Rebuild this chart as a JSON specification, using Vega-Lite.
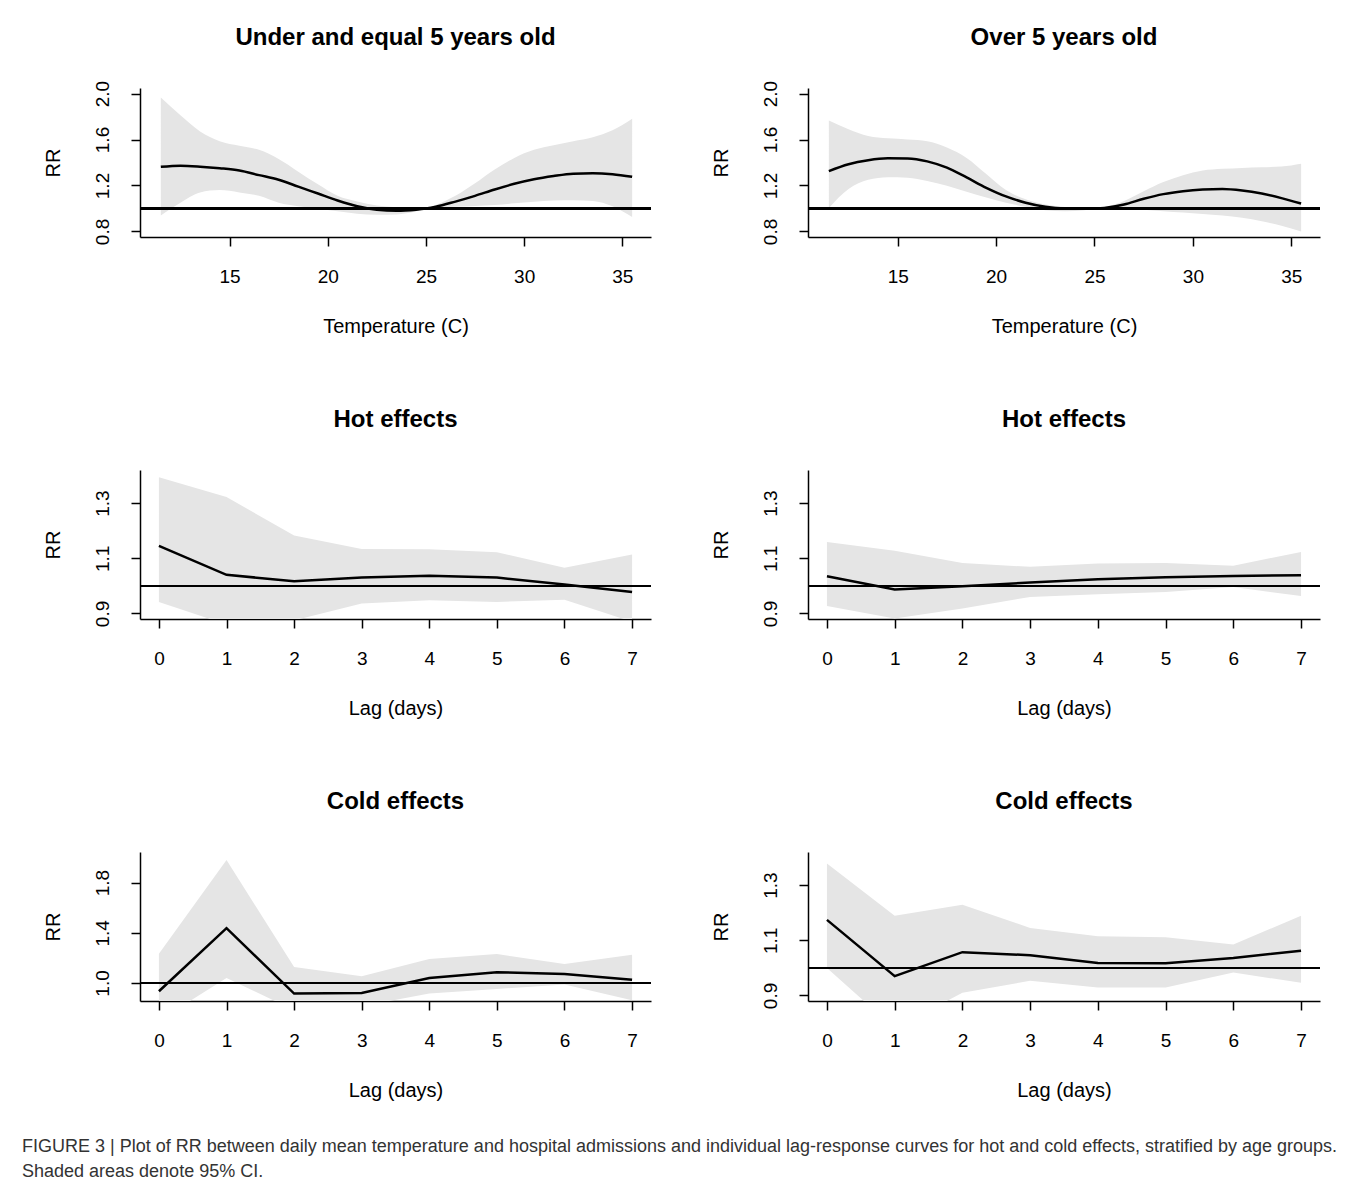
{
  "$schema": "https://vega.github.io/schema/vega-lite/v6.json",
  "background": "white",
  "padding": {"left": 22, "top": 26, "right": 5, "bottom": 5},
  "datasets": {
    "p1": [
      {"x": 11.5, "rr": 1.362, "lo": 0.94, "hi": 1.965},
      {"x": 12.5, "rr": 1.372, "lo": 1.05, "hi": 1.81},
      {"x": 13.5, "rr": 1.364, "lo": 1.14, "hi": 1.67},
      {"x": 14.5, "rr": 1.35, "lo": 1.16, "hi": 1.585},
      {"x": 15.5, "rr": 1.33, "lo": 1.14, "hi": 1.545},
      {"x": 16.5, "rr": 1.29, "lo": 1.11, "hi": 1.51},
      {"x": 17.5, "rr": 1.25, "lo": 1.05, "hi": 1.43},
      {"x": 18.5, "rr": 1.19, "lo": 1.02, "hi": 1.32},
      {"x": 19.5, "rr": 1.13, "lo": 1.0, "hi": 1.21},
      {"x": 20.5, "rr": 1.07, "lo": 0.975, "hi": 1.11},
      {"x": 21.5, "rr": 1.02, "lo": 0.955, "hi": 1.06},
      {"x": 22.5, "rr": 0.99, "lo": 0.945, "hi": 1.025},
      {"x": 23.5, "rr": 0.98, "lo": 0.948, "hi": 1.01},
      {"x": 24.5, "rr": 0.99, "lo": 0.975, "hi": 1.003},
      {"x": 25.0, "rr": 1.0, "lo": 1.0, "hi": 1.0},
      {"x": 25.5, "rr": 1.015, "lo": 1.005, "hi": 1.03},
      {"x": 26.5, "rr": 1.06, "lo": 1.015, "hi": 1.11},
      {"x": 27.5, "rr": 1.11, "lo": 1.022, "hi": 1.22},
      {"x": 28.5, "rr": 1.165, "lo": 1.03, "hi": 1.34},
      {"x": 29.5, "rr": 1.215, "lo": 1.045, "hi": 1.44},
      {"x": 30.5, "rr": 1.255, "lo": 1.058, "hi": 1.51},
      {"x": 31.5, "rr": 1.283, "lo": 1.07, "hi": 1.55},
      {"x": 32.5, "rr": 1.303, "lo": 1.072, "hi": 1.585},
      {"x": 33.5, "rr": 1.307, "lo": 1.066, "hi": 1.62},
      {"x": 34.5, "rr": 1.298, "lo": 1.02, "hi": 1.68},
      {"x": 35.5, "rr": 1.276, "lo": 0.925, "hi": 1.78}
    ],
    "p2": [
      {"x": 11.5, "rr": 1.325, "lo": 1.005, "hi": 1.765},
      {"x": 12.5, "rr": 1.385, "lo": 1.17, "hi": 1.69},
      {"x": 13.5, "rr": 1.42, "lo": 1.25, "hi": 1.63},
      {"x": 14.5, "rr": 1.436, "lo": 1.272, "hi": 1.61},
      {"x": 15.5, "rr": 1.435, "lo": 1.268, "hi": 1.6},
      {"x": 16.5, "rr": 1.41, "lo": 1.24, "hi": 1.585},
      {"x": 17.5, "rr": 1.355, "lo": 1.197, "hi": 1.53},
      {"x": 18.5, "rr": 1.27, "lo": 1.145, "hi": 1.44},
      {"x": 19.5, "rr": 1.18, "lo": 1.095, "hi": 1.3},
      {"x": 20.5, "rr": 1.105, "lo": 1.05, "hi": 1.16},
      {"x": 21.5, "rr": 1.05, "lo": 1.015, "hi": 1.08},
      {"x": 22.5, "rr": 1.015, "lo": 0.985, "hi": 1.035},
      {"x": 23.5, "rr": 1.0, "lo": 0.975, "hi": 1.012},
      {"x": 24.5, "rr": 0.998, "lo": 0.985, "hi": 1.003},
      {"x": 25.0, "rr": 1.0, "lo": 1.0, "hi": 1.0},
      {"x": 25.5, "rr": 1.005, "lo": 1.0, "hi": 1.012},
      {"x": 26.5, "rr": 1.035, "lo": 1.0, "hi": 1.065},
      {"x": 27.5, "rr": 1.085, "lo": 0.99, "hi": 1.15},
      {"x": 28.5, "rr": 1.125, "lo": 0.977, "hi": 1.23},
      {"x": 29.5, "rr": 1.15, "lo": 0.965, "hi": 1.29},
      {"x": 30.5, "rr": 1.165, "lo": 0.952, "hi": 1.33},
      {"x": 31.5, "rr": 1.17, "lo": 0.94, "hi": 1.345},
      {"x": 32.5, "rr": 1.157, "lo": 0.92, "hi": 1.353},
      {"x": 33.5, "rr": 1.13, "lo": 0.89, "hi": 1.358},
      {"x": 34.5, "rr": 1.09, "lo": 0.85, "hi": 1.365},
      {"x": 35.5, "rr": 1.043, "lo": 0.8, "hi": 1.39}
    ],
    "p3": [
      {"x": 0, "rr": 1.145, "lo": 0.942, "hi": 1.394},
      {"x": 1, "rr": 1.04, "lo": 0.86, "hi": 1.322},
      {"x": 2, "rr": 1.017, "lo": 0.875, "hi": 1.183},
      {"x": 3, "rr": 1.03, "lo": 0.936, "hi": 1.134},
      {"x": 4, "rr": 1.037, "lo": 0.948, "hi": 1.133},
      {"x": 5, "rr": 1.03, "lo": 0.942, "hi": 1.122},
      {"x": 6, "rr": 1.005, "lo": 0.95, "hi": 1.066},
      {"x": 7, "rr": 0.978, "lo": 0.87, "hi": 1.114}
    ],
    "p4": [
      {"x": 0, "rr": 1.035, "lo": 0.927, "hi": 1.159},
      {"x": 1, "rr": 0.987, "lo": 0.882, "hi": 1.127},
      {"x": 2, "rr": 0.999, "lo": 0.918, "hi": 1.083},
      {"x": 3, "rr": 1.012, "lo": 0.96, "hi": 1.069},
      {"x": 4, "rr": 1.024, "lo": 0.97, "hi": 1.081},
      {"x": 5, "rr": 1.031, "lo": 0.978, "hi": 1.083},
      {"x": 6, "rr": 1.036, "lo": 0.996, "hi": 1.073},
      {"x": 7, "rr": 1.039, "lo": 0.963, "hi": 1.123}
    ],
    "p5": [
      {"x": 0, "rr": 0.934, "lo": 0.7, "hi": 1.233},
      {"x": 1, "rr": 1.437, "lo": 1.04, "hi": 1.98},
      {"x": 2, "rr": 0.915, "lo": 0.783, "hi": 1.127},
      {"x": 3, "rr": 0.92, "lo": 0.815, "hi": 1.053},
      {"x": 4, "rr": 1.04, "lo": 0.915, "hi": 1.19},
      {"x": 5, "rr": 1.085, "lo": 0.952, "hi": 1.23},
      {"x": 6, "rr": 1.072, "lo": 0.987, "hi": 1.151},
      {"x": 7, "rr": 1.026, "lo": 0.862, "hi": 1.225}
    ],
    "p6": [
      {"x": 0, "rr": 1.174, "lo": 1.0, "hi": 1.378},
      {"x": 1, "rr": 0.97, "lo": 0.78, "hi": 1.189},
      {"x": 2, "rr": 1.057, "lo": 0.91, "hi": 1.229},
      {"x": 3, "rr": 1.046, "lo": 0.953, "hi": 1.145},
      {"x": 4, "rr": 1.018, "lo": 0.929, "hi": 1.115},
      {"x": 5, "rr": 1.017, "lo": 0.929, "hi": 1.111},
      {"x": 6, "rr": 1.036, "lo": 0.983, "hi": 1.085},
      {"x": 7, "rr": 1.062, "lo": 0.946, "hi": 1.189}
    ]
  },
  "title": {
    "text": ["FIGURE 3 | Plot of RR between daily mean temperature and hospital admissions and individual lag-response curves for hot and cold effects, stratified by age groups.", "Shaded areas denote 95% CI."],
    "orient": "bottom",
    "anchor": "start",
    "dx": -21,
    "offset": 38,
    "fontSize": 18,
    "fontWeight": "normal",
    "font": "Liberation Sans",
    "color": "#333333",
    "lineHeight": 25
  },
  "spacing": 382,
  "bounds": "flush",
  "vconcat": [
    {
      "bounds": "flush",
      "spacing": 157,
      "hconcat": [
        {
          "title": "Under and equal 5 years old",
          "width": 511, "height": 149,
          "data": {"name": "p1"},
          "layer": [
            {"mark": {"type": "area", "color": "#e5e5e5", "clip": true, "interpolate": "monotone"},
             "encoding": {
               "x": {"field": "x", "type": "quantitative", "title": "Temperature (C)", "scale": {"domain": [10.44, 36.46], "nice": false, "zero": false}, "axis": {"values": [15, 20, 25, 30, 35], "format": "d"}},
               "y": {"field": "lo", "type": "quantitative", "title": "RR", "scale": {"domain": [0.752, 2.048], "nice": false, "zero": false}, "axis": {"values": [0.8, 1.0, 1.2, 1.4, 1.6, 1.8, 2.0], "format": ".1f", "labelExpr": "indexof(['0.8','1.2','1.6','2.0'], datum.label) >= 0 ? datum.label : ''"}},
               "y2": {"field": "hi"}}},
            {"mark": {"type": "rule", "color": "black", "strokeWidth": 1.5}, "encoding": {"y": {"datum": 1}}},
            {"mark": {"type": "line", "color": "black", "strokeWidth": 2.5, "clip": true, "interpolate": "monotone"},
             "encoding": {"x": {"field": "x", "type": "quantitative"}, "y": {"field": "rr", "type": "quantitative"}}}
          ]
        },
        {
          "title": "Over 5 years old",
          "width": 512, "height": 149,
          "data": {"name": "p2"},
          "layer": [
            {"mark": {"type": "area", "color": "#e5e5e5", "clip": true, "interpolate": "monotone"},
             "encoding": {
               "x": {"field": "x", "type": "quantitative", "title": "Temperature (C)", "scale": {"domain": [10.44, 36.46], "nice": false, "zero": false}, "axis": {"values": [15, 20, 25, 30, 35], "format": "d"}},
               "y": {"field": "lo", "type": "quantitative", "title": "RR", "scale": {"domain": [0.752, 2.048], "nice": false, "zero": false}, "axis": {"values": [0.8, 1.0, 1.2, 1.4, 1.6, 1.8, 2.0], "format": ".1f", "labelExpr": "indexof(['0.8','1.2','1.6','2.0'], datum.label) >= 0 ? datum.label : ''"}},
               "y2": {"field": "hi"}}},
            {"mark": {"type": "rule", "color": "black", "strokeWidth": 1.5}, "encoding": {"y": {"datum": 1}}},
            {"mark": {"type": "line", "color": "black", "strokeWidth": 2.5, "clip": true, "interpolate": "monotone"},
             "encoding": {"x": {"field": "x", "type": "quantitative"}, "y": {"field": "rr", "type": "quantitative"}}}
          ]
        }
      ]
    },
    {
      "bounds": "flush",
      "spacing": 157,
      "hconcat": [
        {
          "title": {"text": "Hot effects", "offset": 38},
          "width": 511, "height": 149,
          "data": {"name": "p3"},
          "layer": [
            {"mark": {"type": "area", "color": "#e5e5e5", "clip": true},
             "encoding": {
               "x": {"field": "x", "type": "quantitative", "title": "Lag (days)", "scale": {"domain": [-0.28, 7.28], "nice": false, "zero": false}, "axis": {"values": [0, 1, 2, 3, 4, 5, 6, 7], "format": "d"}},
               "y": {"field": "lo", "type": "quantitative", "title": "RR", "scale": {"domain": [0.88, 1.42], "nice": false, "zero": false}, "axis": {"values": [0.9, 1.0, 1.1, 1.2, 1.3, 1.4], "format": ".1f", "labelExpr": "indexof(['0.9','1.1','1.3'], datum.label) >= 0 ? datum.label : ''"}},
               "y2": {"field": "hi"}}},
            {"mark": {"type": "rule", "color": "black", "strokeWidth": 1.5}, "encoding": {"y": {"datum": 1}}},
            {"mark": {"type": "line", "color": "black", "strokeWidth": 2.5, "clip": true},
             "encoding": {"x": {"field": "x", "type": "quantitative"}, "y": {"field": "rr", "type": "quantitative"}}}
          ]
        },
        {
          "title": {"text": "Hot effects", "offset": 38},
          "width": 512, "height": 149,
          "data": {"name": "p4"},
          "layer": [
            {"mark": {"type": "area", "color": "#e5e5e5", "clip": true},
             "encoding": {
               "x": {"field": "x", "type": "quantitative", "title": "Lag (days)", "scale": {"domain": [-0.28, 7.28], "nice": false, "zero": false}, "axis": {"values": [0, 1, 2, 3, 4, 5, 6, 7], "format": "d"}},
               "y": {"field": "lo", "type": "quantitative", "title": "RR", "scale": {"domain": [0.88, 1.42], "nice": false, "zero": false}, "axis": {"values": [0.9, 1.0, 1.1, 1.2, 1.3, 1.4], "format": ".1f", "labelExpr": "indexof(['0.9','1.1','1.3'], datum.label) >= 0 ? datum.label : ''"}},
               "y2": {"field": "hi"}}},
            {"mark": {"type": "rule", "color": "black", "strokeWidth": 1.5}, "encoding": {"y": {"datum": 1}}},
            {"mark": {"type": "line", "color": "black", "strokeWidth": 2.5, "clip": true},
             "encoding": {"x": {"field": "x", "type": "quantitative"}, "y": {"field": "rr", "type": "quantitative"}}}
          ]
        }
      ]
    },
    {
      "bounds": "flush",
      "spacing": 157,
      "hconcat": [
        {
          "title": {"text": "Cold effects", "offset": 38},
          "width": 511, "height": 149,
          "data": {"name": "p5"},
          "layer": [
            {"mark": {"type": "area", "color": "#e5e5e5", "clip": true},
             "encoding": {
               "x": {"field": "x", "type": "quantitative", "title": "Lag (days)", "scale": {"domain": [-0.28, 7.28], "nice": false, "zero": false}, "axis": {"values": [0, 1, 2, 3, 4, 5, 6, 7], "format": "d"}},
               "y": {"field": "lo", "type": "quantitative", "title": "RR", "scale": {"domain": [0.856, 2.044], "nice": false, "zero": false}, "axis": {"values": [1.0, 1.2, 1.4, 1.6, 1.8, 2.0], "format": ".1f", "labelExpr": "indexof(['1.0','1.4','1.8'], datum.label) >= 0 ? datum.label : ''"}},
               "y2": {"field": "hi"}}},
            {"mark": {"type": "rule", "color": "black", "strokeWidth": 1.5}, "encoding": {"y": {"datum": 1}}},
            {"mark": {"type": "line", "color": "black", "strokeWidth": 2.5, "clip": true},
             "encoding": {"x": {"field": "x", "type": "quantitative"}, "y": {"field": "rr", "type": "quantitative"}}}
          ]
        },
        {
          "title": {"text": "Cold effects", "offset": 38},
          "width": 512, "height": 149,
          "data": {"name": "p6"},
          "layer": [
            {"mark": {"type": "area", "color": "#e5e5e5", "clip": true},
             "encoding": {
               "x": {"field": "x", "type": "quantitative", "title": "Lag (days)", "scale": {"domain": [-0.28, 7.28], "nice": false, "zero": false}, "axis": {"values": [0, 1, 2, 3, 4, 5, 6, 7], "format": "d"}},
               "y": {"field": "lo", "type": "quantitative", "title": "RR", "scale": {"domain": [0.88, 1.42], "nice": false, "zero": false}, "axis": {"values": [0.9, 1.0, 1.1, 1.2, 1.3, 1.4], "format": ".1f", "labelExpr": "indexof(['0.9','1.1','1.3'], datum.label) >= 0 ? datum.label : ''"}},
               "y2": {"field": "hi"}}},
            {"mark": {"type": "rule", "color": "black", "strokeWidth": 1.5}, "encoding": {"y": {"datum": 1}}},
            {"mark": {"type": "line", "color": "black", "strokeWidth": 2.5, "clip": true},
             "encoding": {"x": {"field": "x", "type": "quantitative"}, "y": {"field": "rr", "type": "quantitative"}}}
          ]
        }
      ]
    }
  ],
  "config": {
    "font": "Liberation Sans",
    "view": {"stroke": null},
    "axis": {
      "grid": false,
      "domainColor": "black", "domainWidth": 1.5,
      "tickColor": "black", "tickWidth": 1.5, "tickSize": 9,
      "labelFont": "Liberation Sans", "labelFontSize": 19, "labelColor": "black",
      "titleFont": "Liberation Sans", "titleFontSize": 20, "titleFontWeight": "normal", "titleColor": "black"
    },
    "axisX": {"labelPadding": 21, "titlePadding": 30},
    "axisY": {"labelAngle": -90, "labelPadding": 19, "titlePadding": 30},
    "title": {"fontSize": 24, "fontWeight": "bold", "color": "black", "offset": 30}
  }
}
